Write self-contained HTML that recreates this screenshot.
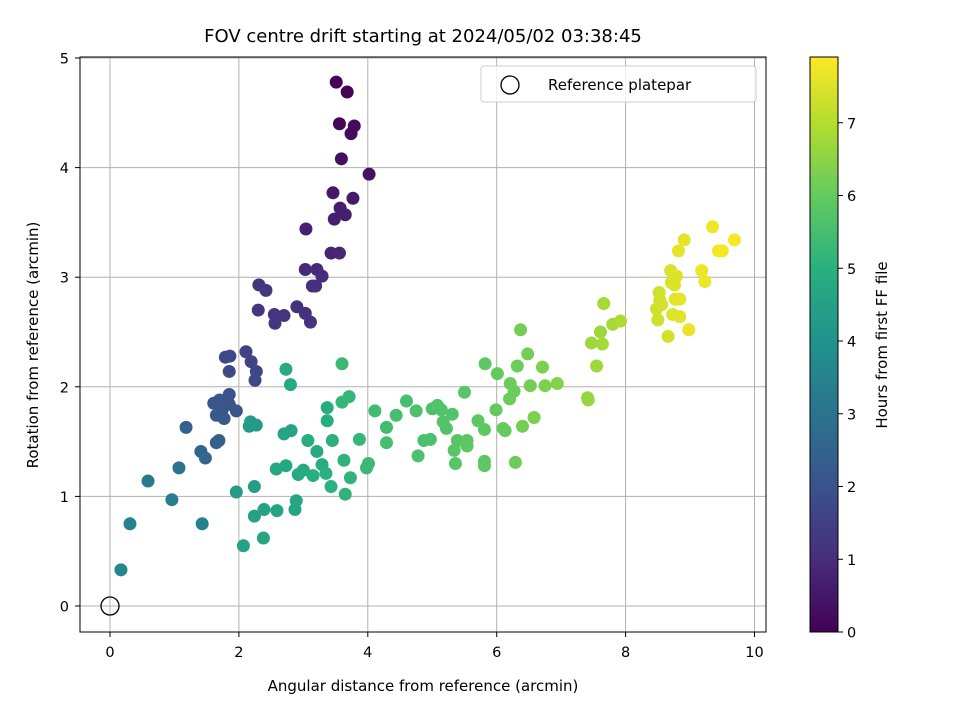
<!DOCTYPE html>
<html><head><meta charset="utf-8"><style>
body{margin:0;background:#fff;}
svg text{font-family:"DejaVu Sans","Liberation Sans",sans-serif;fill:#000;}
</style></head><body>
<svg id="chart" width="960" height="720" xmlns="http://www.w3.org/2000/svg">
<defs><linearGradient id="vir" x1="0" y1="1" x2="0" y2="0">
<stop offset="0" stop-color="#440154"/><stop offset="0.125" stop-color="#472d7b"/><stop offset="0.25" stop-color="#3b528b"/><stop offset="0.375" stop-color="#2c728e"/><stop offset="0.5" stop-color="#21918c"/><stop offset="0.625" stop-color="#28ae80"/><stop offset="0.75" stop-color="#5ec962"/><stop offset="0.875" stop-color="#addc30"/><stop offset="1" stop-color="#fde725"/></linearGradient></defs>
<g id="grid"></g>
<g id="points"></g>
<rect x="80" y="57" width="686" height="575" fill="none" stroke="#000" stroke-width="1"/>
<g id="axes"></g>
<text x="423" y="42" font-size="18" text-anchor="middle">FOV centre drift starting at 2024/05/02 03:38:45</text>
<text x="423" y="691" font-size="15" text-anchor="middle">Angular distance from reference (arcmin)</text>
<text x="38" y="345" font-size="15" text-anchor="middle" transform="rotate(-90 38 345)">Rotation from reference (arcmin)</text>
<g>
<rect x="481" y="66" width="275" height="36" rx="3" fill="#fff" fill-opacity="0.8" stroke="#ccc"/>
<circle cx="510" cy="85" r="9" fill="none" stroke="#000" stroke-width="1.3"/>
<text x="548" y="90" font-size="15">Reference platepar</text>
</g>
<rect x="810" y="57" width="28" height="575" fill="url(#vir)" stroke="#000" stroke-width="1"/>
<g id="cbar"></g>
<text x="887" y="345" font-size="15" text-anchor="middle" transform="rotate(-90 887 345)">Hours from first FF file</text>
</svg>
<script>
const xs=[3.51,3.68,3.56,3.79,3.74,3.59,4.02,
3.46,3.77,3.57,3.65,3.48,3.04,3.43,3.56,3.03,3.21,3.29,3.14,3.19,
2.31,2.42,2.90,3.03,2.70,2.55,2.56,3.11,2.30,
2.11,2.19,2.27,2.25,1.79,1.86,1.85,
1.85,1.79,1.61,1.70,1.85,1.74,1.65,1.77,1.96,1.18,1.69,1.65,1.41,1.48,
1.07,0.59,0.96,1.43,0.31,0.17,
1.96,2.24,2.24,2.39,2.59,2.07,2.38,2.87,2.89,2.16,2.18,2.27,2.73,2.80,2.58,2.73,2.70,2.81,2.92,3.00,3.21,3.07,3.15,3.29,3.35,3.43,3.37,3.37,3.45,3.65,3.73,3.63,3.60,3.71,3.60,3.87,3.98,4.01,
4.11,4.29,4.29,4.44,4.60,4.75,4.78,4.87,4.97,5.00,5.08,5.14,5.17,5.22,5.31,5.36,5.34,5.39,5.50,5.54,5.54,5.71,5.81,5.81,5.81,5.82,5.99,6.01,6.10,6.13,6.20,6.21,6.27,6.29,6.32,6.37,6.40,6.48,6.52,6.58,6.71,6.75,6.94,
7.41,7.42,7.47,7.55,7.61,7.66,7.64,7.80,7.92,
8.48,8.50,8.52,8.53,8.56,8.66,8.71,8.70,8.76,8.79,8.73,8.84,8.77,8.84,8.82,8.91,8.98,9.18,9.23,9.35,9.44,9.50,9.69];
const ys=[4.78,4.69,4.40,4.38,4.31,4.08,3.94,
3.77,3.72,3.63,3.57,3.53,3.44,3.22,3.22,3.07,3.07,3.01,2.92,2.92,
2.93,2.88,2.73,2.67,2.65,2.66,2.58,2.59,2.70,
2.32,2.23,2.14,2.06,2.27,2.28,2.14,
1.93,1.86,1.85,1.88,1.84,1.79,1.74,1.71,1.78,1.63,1.51,1.49,1.41,1.35,
1.26,1.14,0.97,0.75,0.75,0.33,
1.04,1.09,0.82,0.88,0.87,0.55,0.62,0.88,0.96,1.64,1.68,1.65,2.16,2.02,1.25,1.28,1.57,1.60,1.20,1.24,1.41,1.51,1.19,1.29,1.21,1.09,1.69,1.81,1.51,1.02,1.17,1.33,1.86,1.91,2.21,1.52,1.26,1.30,
1.78,1.63,1.49,1.74,1.87,1.78,1.37,1.51,1.52,1.80,1.83,1.79,1.68,1.62,1.75,1.30,1.42,1.51,1.95,1.51,1.46,1.69,1.61,1.32,1.28,2.21,1.79,2.12,1.62,1.60,1.89,2.03,1.96,1.31,2.19,2.52,1.64,2.30,2.01,1.72,2.18,2.01,2.03,
1.90,1.88,2.40,2.19,2.50,2.76,2.39,2.57,2.60,
2.71,2.61,2.86,2.79,2.75,2.46,2.95,3.06,2.93,3.01,2.66,2.64,2.80,2.80,3.24,3.34,2.52,3.06,2.96,3.46,3.24,3.24,3.34];
const hours=[0.05,0.1,0.15,0.2,0.25,0.3,0.35,
0.5,0.55,0.6,0.65,0.7,0.75,0.8,0.85,0.9,0.95,1.0,1.05,1.05,
1.2,1.25,1.1,1.1,1.2,1.2,1.25,1.15,1.25,
1.55,1.6,1.65,1.7,1.7,1.75,1.75,
2.0,2.05,2.1,2.1,2.0,2.15,2.2,2.2,2.1,2.5,2.4,2.45,2.55,2.6,
3.0,3.2,3.3,3.4,3.5,3.6,
4.3,4.4,4.5,4.5,4.6,4.5,4.6,4.6,4.7,4.3,4.3,4.3,4.8,4.8,4.7,4.7,4.6,4.6,4.8,4.8,4.8,4.9,4.9,4.9,5.0,5.0,4.9,4.9,5.0,5.1,5.1,5.1,5.2,5.2,5.3,5.2,5.3,5.3,
5.4,5.4,5.5,5.5,5.5,5.6,5.6,5.6,5.6,5.6,5.7,5.7,5.7,5.7,5.7,5.8,5.8,5.8,5.8,5.9,5.9,5.9,5.9,5.9,5.9,5.9,6.0,6.0,6.0,6.0,6.1,6.1,6.1,6.1,6.1,6.2,6.2,6.2,6.2,6.3,6.3,6.3,6.4,
6.6,6.6,6.7,6.7,6.7,6.8,6.8,6.8,6.9,
7.3,7.3,7.35,7.35,7.4,7.4,7.45,7.45,7.5,7.5,7.5,7.55,7.55,7.6,7.6,7.6,7.65,7.7,7.7,7.75,7.8,7.8,7.85];
const xTicks=[0,2,4,6,8,10], yTicks=[0,1,2,3,4,5], cTicks=[0,1,2,3,4,5,6,7];
const X=v=>110+v*64.45, Y=v=>606-v*109.6, C=v=>632-v*72.75;
const NS="http://www.w3.org/2000/svg";
function mk(tag,attrs,parent,txt){const e=document.createElementNS(NS,tag);for(const k in attrs)e.setAttribute(k,attrs[k]);if(txt!==undefined)e.textContent=txt;parent.appendChild(e);return e;}
const stops=[[68,1,84],[71,45,123],[59,82,139],[44,114,142],[33,145,140],[40,174,128],[94,201,98],[173,220,48],[253,231,37]];
function vir(h){let t=Math.max(0,Math.min(1,h/7.9))*8;let i=Math.min(7,Math.floor(t)),f=t-i;const a=stops[i],b=stops[i+1];return `rgb(${a.map((v,k)=>Math.round(v+(b[k]-v)*f)).join(',')})`;}
const g=document.getElementById('grid'),ax=document.getElementById('axes'),pts=document.getElementById('points'),cb=document.getElementById('cbar');
xTicks.forEach(t=>{const x=X(t);
let l=mk('line',{x1:x,x2:x,y1:57,y2:632,stroke:'#b0b0b0','stroke-width':1},g);

mk('line',{x1:x,x2:x,y1:632,y2:637,stroke:'#000'},ax);
let tx=mk('text',{x:x,y:657,'font-size':14.5,'text-anchor':'middle'},ax,String(t));
});
yTicks.forEach(t=>{const y=Y(t);
let l=mk('line',{x1:80,x2:766,y1:y,y2:y,stroke:'#b0b0b0','stroke-width':1},g);

mk('line',{x1:75,x2:80,y1:y,y2:y,stroke:'#000'},ax);
let tx=mk('text',{x:69,y:y+5.5,'font-size':14.5,'text-anchor':'end'},ax,String(t));
});
cTicks.forEach(t=>{const y=C(t);
mk('line',{x1:838,x2:843,y1:y,y2:y,stroke:'#000'},cb);
let tx=mk('text',{x:847,y:y+5.5,'font-size':14.5},cb,String(t));
});
xs.forEach((v,i)=>{const c=mk('circle',{cx:X(v),cy:Y(ys[i]),r:6.5,fill:vir(hours[i])},pts);

});
const ref=mk('circle',{cx:X(0),cy:Y(0),r:9,fill:'none',stroke:'#000','stroke-width':1.3},pts);


</script>
</body></html>
